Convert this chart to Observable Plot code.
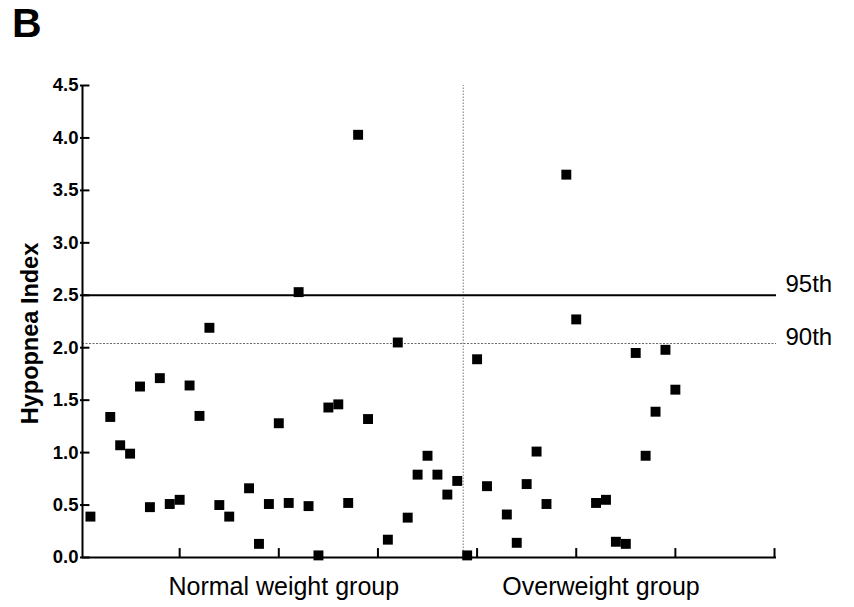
<!DOCTYPE html>
<html>
<head>
<meta charset="utf-8">
<script src="https://cdn.jsdelivr.net/npm/d3@7"></script>
<script src="https://cdn.jsdelivr.net/npm/@observablehq/plot@0.6"></script>
<style>
  html, body { margin: 0; padding: 0; background: #fff; }
  #wrap { position: relative; width: 854px; height: 607px; font-family: "Liberation Sans", Arial, sans-serif; }
  #panel { position: absolute; left: 12px; top: 0; line-height: normal; font-weight: bold; font-size: 41px; color: #000; }
  #chart { position: absolute; left: 0; top: 0; }
</style>
</head>
<body>
<div id="wrap">
  <div id="chart"></div>
  <div id="panel">B</div>
</div>
<script>
// Subject order (slot) along the x axis and hypopnea index values
const normalSlot = [0,2,3,4,5,6,7,8,9,10,11,12,13,14,16,17,18,19,20,21,22,23,24,25,26,27,28,30,31,32,33,34,35,36,37];
const normalHI   = [0.39,1.34,1.07,0.99,1.63,0.48,1.71,0.51,0.55,1.64,1.35,2.19,0.50,0.39,0.66,0.13,0.51,1.28,0.52,2.53,0.49,0.02,1.43,1.46,0.52,4.03,1.32,0.17,2.05,0.38,0.79,0.97,0.79,0.60,0.73];
const overSlot   = [38,39,40,42,43,44,45,46,48,49,51,52,53,54,55,56,57,58,59];
const overHI     = [0.02,1.89,0.68,0.41,0.14,0.70,1.01,0.51,3.65,2.27,0.52,0.55,0.15,0.13,1.95,0.97,1.39,1.98,1.60];

const groupNames  = ["Normal weight group", "Overweight group"];
const groupCenter = [19.5, 51.5];
const groupDivider = 37.6;

const pctLabels = ["95th", "90th"];
const pctValues = [2.5, 2.04];

const yTicks = [0, 0.5, 1.0, 1.5, 2.0, 2.5, 3.0, 3.5, 4.0, 4.5];
const xTicks = [9, 19, 29, 39, 49, 59, 69];
const xDomain = [-0.8, 69.2];
const yDomain = [0, 4.5];

const points = [
  ...normalSlot.map((s, i) => ({slot: s, hi: normalHI[i], group: groupNames[0]})),
  ...overSlot.map((s, i) => ({slot: s, hi: overHI[i], group: groupNames[1]}))
];
const groups = groupNames.map((g, i) => ({name: g, x: groupCenter[i]}));
const pct = pctLabels.map((l, i) => ({label: l, y: pctValues[i]}));

const font = "Liberation Sans, Arial, sans-serif";
const fmt = d3.format(".1f");

const chart = Plot.plot({
  width: 854,
  height: 607,
  marginTop: 85,
  marginBottom: 50,
  marginLeft: 82,
  marginRight: 78,
  style: {fontFamily: font, background: "white", overflow: "visible"},
  x: {domain: xDomain, axis: null},
  y: {domain: yDomain, axis: null},
  marks: [
    // 90th percentile (dotted) and divider
    Plot.ruleY([pct[1]], {y: "y", x1: xDomain[0], x2: xDomain[1], stroke: "#666", strokeWidth: 1, strokeDasharray: "2,1.5"}),
    Plot.ruleX([groupDivider], {y1: yDomain[0], y2: yDomain[1], stroke: "#777", strokeWidth: 1, strokeDasharray: "1.5,1.5"}),
    // 95th percentile (solid)
    Plot.ruleY([pct[0]], {y: "y", x1: xDomain[0], x2: xDomain[1], stroke: "black", strokeWidth: 2}),
    // axes lines
    Plot.ruleY([0], {x1: xDomain[0], x2: xDomain[1], stroke: "black", strokeWidth: 2}),
    Plot.ruleX([xDomain[0]], {y1: yDomain[0], y2: yDomain[1], stroke: "black", strokeWidth: 2}),
    // y ticks (inward)
    Plot.ruleY(yTicks, {x1: xDomain[0] - 0.2, x2: xDomain[0] + 0.75, stroke: "black", strokeWidth: 2}),
    // x ticks (inward)
    Plot.ruleX(xTicks, {y1: 0, y2: 0.085, stroke: "black", strokeWidth: 2}),
    // y tick labels
    Plot.text(yTicks, {x: xDomain[0], y: d => d, text: d => fmt(d), textAnchor: "end", dx: -4, fontSize: 18.5, fontWeight: "bold", fill: "black"}),
    // y axis title
    Plot.text(["Hypopnea Index"], {frameAnchor: "left", text: d => d, textAnchor: "middle", rotate: -90, dx: -52, dy: 12, fontSize: 23.5, fontWeight: "bold", fill: "black"}),
    // data points
    Plot.dot(points, {x: "slot", y: "hi", symbol: "square", r: 5.6, fill: "black"}),
    // percentile labels
    Plot.text([pct[0]], {x: xDomain[1], y: "y", text: "label", textAnchor: "start", dx: 9, dy: -11, fontSize: 24, fill: "black"}),
    Plot.text([pct[1]], {x: xDomain[1], y: "y", text: "label", textAnchor: "start", dx: 9, dy: -6, fontSize: 24, fill: "black"}),
    // group labels
    Plot.text(groups, {x: "x", frameAnchor: "bottom", text: "name", textAnchor: "middle", lineAnchor: "middle", dy: 29, fontSize: 25, fill: "black"})
  ]
});
document.getElementById("chart").appendChild(chart);
</script>
</body>
</html>
